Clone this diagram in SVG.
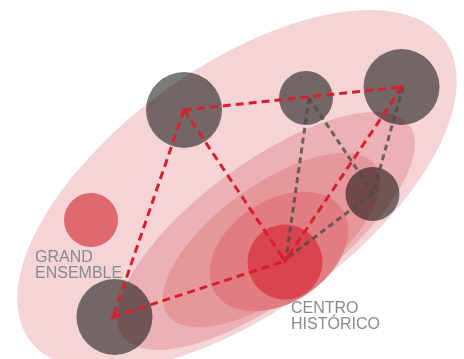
<svg xmlns="http://www.w3.org/2000/svg" width="464" height="359" viewBox="0 0 464 359">
<style>
.hub{fill:#7a7a7a;mix-blend-mode:multiply}
.red{fill:none;stroke:#d6202f;stroke-width:3;stroke-dasharray:8 5}
.redc{fill:none;stroke:#d6202f;stroke-width:3;stroke-linejoin:miter}
.gray{fill:none;stroke:#4d4a4a;stroke-opacity:0.8;stroke-width:3;stroke-dasharray:6 4}
.lbl{font-family:"Liberation Sans",Arial,sans-serif;font-size:16px;fill:#8a8a8a}
</style>
<rect width="464" height="359" fill="#fff"/>
<g id="zones">
<ellipse cx="237" cy="190" rx="256" ry="123" transform="rotate(-35.8 237 190)" fill="#f4d4d6"/>
<ellipse cx="266" cy="231" rx="178" ry="68" transform="rotate(-36.4 266 231)" fill="#ecb1b4"/>
<ellipse cx="271.5" cy="240" rx="128" ry="55" transform="rotate(-35.8 271.5 240)" fill="#e6979b"/>
<ellipse cx="279" cy="251.5" rx="76" ry="51" transform="rotate(-33.7 279 251.5)" fill="#e17c81"/>
</g>
<g id="centro-historico">
<circle cx="285" cy="262" r="37.5" fill="#d9444e"/>
<text class="lbl" x="291" y="313">CENTRO</text>
<text class="lbl" x="291" y="329">HISTÓRICO</text>
</g>
<g id="grand-ensemble">
<circle cx="91" cy="220" r="27" fill="#e0696f"/>
<text class="lbl" x="35" y="262">GRAND</text>
<text class="lbl" x="35" y="278">ENSEMBLE</text>
</g>
<g id="node-tl"><circle class="hub" cx="184" cy="110" r="38"/></g>
<g id="node-tm"><circle class="hub" cx="306" cy="98" r="27"/></g>
<g id="node-tr"><circle class="hub" cx="401.5" cy="87" r="38"/></g>
<g id="node-rm"><circle class="hub" cx="372.5" cy="194" r="27"/></g>
<g id="node-bl"><circle class="hub" cx="114.5" cy="317" r="38"/></g>
<g id="connectors">
<path class="gray" d="M309 98 L286 259"/>
<path class="gray" d="M309 98 L373 193"/>
<path class="gray" d="M403 87 L373 193"/>
<path class="gray" d="M373 193 L286 259"/>
<path class="red" d="M184 110 L402 87"/>
<path class="red" d="M184 110 L113 317"/>
<path class="red" d="M184 110 L285 261"/>
<path class="red" d="M402 87 L285 261"/>
<path class="red" d="M113 317 L285 261"/>
<path class="redc" d="M116 310 L113 317 L120 314.8"/>
<path class="redc" d="M191 109.3 L184 110 L181.7 116.6"/>
<path class="redc" d="M395 87.7 L402 87 L398.1 92.8"/>
<path class="redc" d="M281.1 255.2 L285 261 L288.9 255.2"/>
</g>
</svg>
